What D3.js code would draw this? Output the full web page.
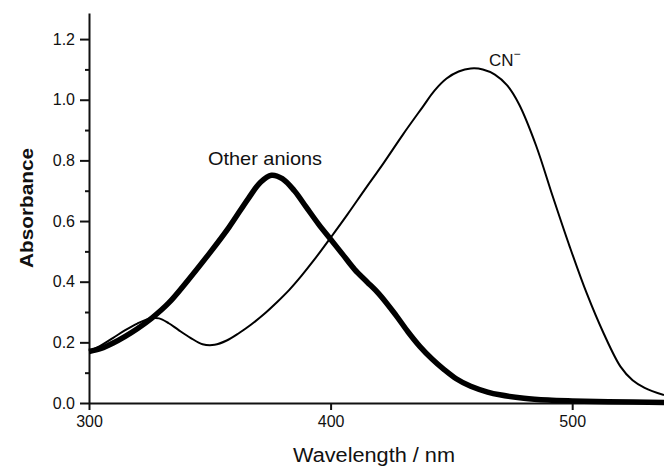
<!DOCTYPE html>
<html>
<head>
<meta charset="utf-8">
<script src="https://cdn.jsdelivr.net/npm/d3@7"></script>
<style>
  html, body { margin: 0; padding: 0; background: #fff; }
  svg { display: block; }
  text { font-family: "Liberation Sans", Arial, Helvetica, sans-serif; fill: #111; }
</style>
</head>
<body>
<svg id="chart" width="664" height="468"></svg>
<script>
// ---- Data ----
const wavelengthCN = [300, 305, 310, 315, 320, 325, 329, 333, 337, 342, 347, 352, 357, 362, 367, 372, 378, 383, 388, 393, 400, 407, 414, 422, 430, 438, 443, 448, 453, 458, 463, 468, 473, 478, 485, 492, 499, 506, 513, 520, 525, 530, 538];
const absorbanceCN = [0.17, 0.19, 0.215, 0.24, 0.262, 0.278, 0.279, 0.263, 0.241, 0.215, 0.194, 0.192, 0.206, 0.23, 0.258, 0.29, 0.334, 0.374, 0.42, 0.47, 0.545, 0.622, 0.702, 0.792, 0.886, 0.975, 1.03, 1.07, 1.093, 1.103, 1.1, 1.083, 1.048, 0.985, 0.85, 0.68, 0.515, 0.362, 0.23, 0.12, 0.075, 0.05, 0.026];

const wavelengthOther = [300, 305, 310, 315, 320, 326, 333, 341, 350, 358, 366, 371, 375.5, 380, 385, 390, 395, 400, 405, 410, 415, 420, 427, 432, 437, 442, 447, 452, 458, 465, 470, 480, 490, 500, 515, 538];
const absorbanceOther = [0.17, 0.18, 0.198, 0.22, 0.245, 0.28, 0.33, 0.405, 0.495, 0.58, 0.675, 0.728, 0.751, 0.74, 0.70, 0.645, 0.59, 0.54, 0.49, 0.44, 0.40, 0.36, 0.29, 0.235, 0.186, 0.145, 0.11, 0.08, 0.055, 0.036, 0.027, 0.016, 0.01, 0.007, 0.004, 0.002];

const xTickValues = [300, 400, 500];
const yMajorTicks = [0.0, 0.2, 0.4, 0.6, 0.8, 1.0, 1.2];
const yMinorTicks = [0.1, 0.3, 0.5, 0.7, 0.9, 1.1];

const xLabel = "Wavelength / nm";
const yLabel = "Absorbance";
const labelOther = "Other anions";
const labelCN = "CN";

// ---- Scales ----
const svg = d3.select("#chart");
const x = d3.scaleLinear().domain([300, 538]).range([89, 664]);
const y = d3.scaleLinear().domain([0, 1.286]).range([403, 13]);

// ---- Axes ----
const xAxis = d3.axisBottom(x).tickValues(xTickValues).tickFormat(d3.format("d"))
  .tickSize(7).tickSizeOuter(0).tickPadding(6);
const gx = svg.append("g").attr("transform", `translate(0,${y(0)})`).call(xAxis);
gx.select(".domain").attr("stroke", "#111").attr("stroke-width", 2);
gx.selectAll(".tick line").attr("stroke", "#111").attr("stroke-width", 2);
gx.selectAll(".tick text").style("font-size", "16px").attr("fill", "#111");

const yAxis = d3.axisLeft(y).tickValues(yMajorTicks).tickFormat(d3.format(".1f"))
  .tickSize(9).tickSizeOuter(0).tickPadding(5);
const gy = svg.append("g").attr("transform", `translate(${x(300)},0)`).call(yAxis);
gy.select(".domain").attr("stroke", "#111").attr("stroke-width", 2);
gy.selectAll(".tick line").attr("stroke", "#111").attr("stroke-width", 2);
gy.selectAll(".tick text").style("font-size", "16px").attr("fill", "#111");

const yMinor = d3.axisLeft(y).tickValues(yMinorTicks).tickFormat("").tickSize(4).tickSizeOuter(0);
const gym = svg.append("g").attr("transform", `translate(${x(300)},0)`).call(yMinor);
gym.select(".domain").remove();
gym.selectAll(".tick line").attr("stroke", "#111").attr("stroke-width", 2);

// ---- Curves ----
const line = d3.line()
  .x(d => x(d[0]))
  .y(d => y(d[1]))
  .curve(d3.curveCatmullRom.alpha(0.5));

const otherData = wavelengthOther.map((w, i) => [w, absorbanceOther[i]]);
const cnData = wavelengthCN.map((w, i) => [w, absorbanceCN[i]]);

svg.append("path").datum(otherData)
  .attr("fill", "none").attr("stroke", "#000").attr("stroke-width", 5.5)
  .attr("stroke-linejoin", "round").attr("d", line);

svg.append("path").datum(cnData)
  .attr("fill", "none").attr("stroke", "#000").attr("stroke-width", 2)
  .attr("stroke-linejoin", "round").attr("d", line);

// ---- Labels ----
svg.append("text")
  .attr("x", 208).attr("y", 165)
  .attr("textLength", 114).attr("lengthAdjust", "spacingAndGlyphs")
  .style("font-size", "19px")
  .text(labelOther);

const cn = svg.append("text")
  .attr("x", 489).attr("y", 66)
  .style("font-size", "17px")
  .text(labelCN);
cn.append("tspan").attr("dy", -8).style("font-size", "12px").text("−");

svg.append("text")
  .attr("x", 293).attr("y", 462)
  .attr("textLength", 162).attr("lengthAdjust", "spacingAndGlyphs")
  .style("font-size", "20px")
  .text(xLabel);

svg.append("text")
  .attr("transform", "translate(33,268) rotate(-90)")
  .attr("x", 0).attr("y", 0)
  .attr("textLength", 120).attr("lengthAdjust", "spacingAndGlyphs")
  .style("font-size", "19px").style("font-weight", "bold")
  .text(yLabel);
</script>
</body>
</html>
